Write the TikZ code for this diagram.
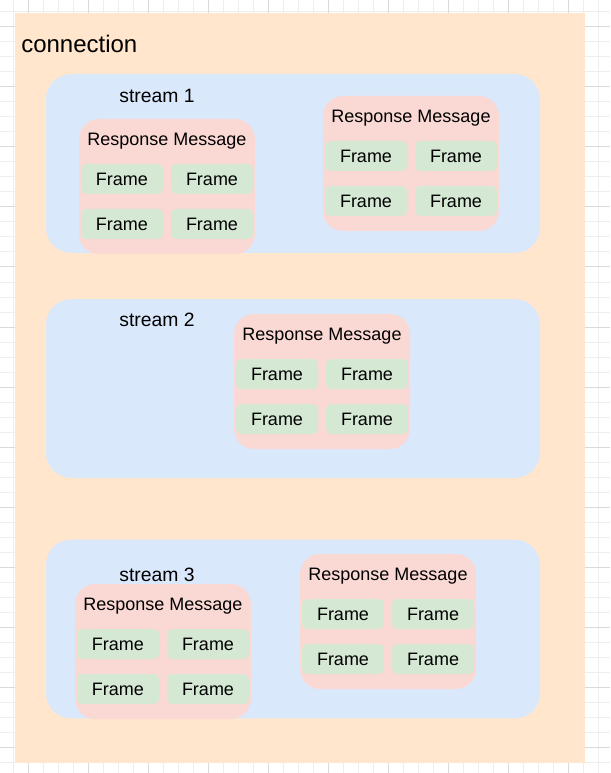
\documentclass[tikz,border=0pt]{standalone}
\usepackage{fontspec}
\setmainfont{Liberation Sans}
\usetikzlibrary{positioning}
\definecolor{gridminor}{HTML}{EEEEEE}
\definecolor{gridmajor}{HTML}{DADADA}
\definecolor{connbg}{HTML}{FFE6CC}
\definecolor{streambg}{HTML}{DAE8FC}
\definecolor{msgbg}{HTML}{FAD9D5}
\definecolor{frmbg}{HTML}{D5E8D4}

\begin{document}
\begin{tikzpicture}[x=0.75pt, y=-0.75pt]
\tikzstyle{stream}=[fill=streambg,rounded corners=18.75pt,minimum width=370.5pt,minimum height=134pt,inner sep=0pt]
\tikzstyle{msg}=[fill=msgbg,rounded corners=15pt,minimum width=132pt,minimum height=101.25pt,inner sep=0pt]
\tikzstyle{frm}=[fill=frmbg,rounded corners=3.75pt,minimum width=61.5pt,minimum height=22.5pt,inner sep=0pt,font=\fontsize{13.5}{16}\selectfont]
\tikzstyle{lbl}=[inner sep=0pt,font=\fontsize{13.5}{16}\selectfont]
\useasboundingbox (0,0) rectangle (610,773);
% background grid
\foreach \gx in {13,28,...,613} \draw[gridminor,line width=0.75pt] (\gx,0) -- (\gx,773);
\foreach \gy in {12,27,...,773} \draw[gridminor,line width=0.75pt] (0,\gy) -- (610,\gy);
\foreach \gx in {28,88,...,613} \draw[gridmajor,line width=0.75pt] (\gx,0) -- (\gx,773);
\foreach \gy in {27,87,...,773} \draw[gridmajor,line width=0.75pt] (0,\gy) -- (610,\gy);
% connection
\node[fill=connbg,minimum width=427.5pt,minimum height=562.5pt,inner sep=0pt] (conn) at (300,388) {};
\node[lbl,font=\fontsize{18}{20}\selectfont,anchor=west] (connlbl) at (21,44) {connection};
% streams
\node[stream] (s1) at (293,163.5) {};
\node[stream] (s2) at (293,388.5) {};
\node[stream] (s3) at (293,629) {};
\node[lbl,font=\fontsize{14.5}{16}\selectfont] (s1lbl) at (157,96) {stream 1};
\node[lbl,font=\fontsize{14.5}{16}\selectfont] (s2lbl) at (157,320) {stream 2};
\node[lbl,font=\fontsize{14.5}{16}\selectfont] (s3lbl) at (157,575) {stream 3};
% response messages, each with four frames
\foreach \m/\x/\y in {a/79/119, b/323/96, c/234/314, d/75/584, e/300/554} {
  \node[msg] (msg\m) at (\x+88,\y+67.5) {};
  \node[lbl] (msg\m-t) at (\x+88,\y+22) {Response Message};
  \node[frm] (msg\m-f1) at (\x+43,\y+60) {Frame};
  \node[frm] (msg\m-f2) at (\x+133,\y+60) {Frame};
  \node[frm] (msg\m-f3) at (\x+43,\y+105) {Frame};
  \node[frm] (msg\m-f4) at (\x+133,\y+105) {Frame};
}
\end{tikzpicture}
\end{document}
